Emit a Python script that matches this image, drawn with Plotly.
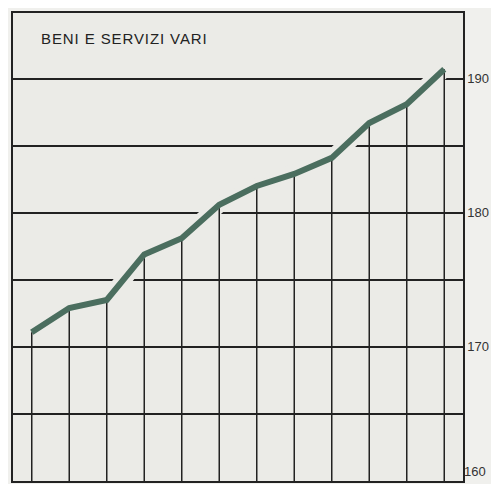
import plotly.graph_objects as go

# data
months = list(range(12))
values = [171.1, 172.9, 173.5, 176.9, 178.1, 180.6, 182.0, 182.9, 184.1, 186.7, 188.1, 190.7]
grid_vals = [165, 170, 175, 180, 185, 190]
grid_text = ["", "170", "", "180", "", "190"]
base_vals = [160]
base_text = ["160"]
title = "BENI E SERVIZI VARI"
y_base = 160
y_range = [160, 194.9]

plot_bg = "#ebebe7"
line_col = "#4b6e5f"
tick_font = dict(family="Liberation Sans, Arial", size=13, color="#333333")

# drop lines from each point to the baseline
drop_x, drop_y = [], []
for m, v in zip(months, values):
    drop_x += [m, m, None]
    drop_y += [v, y_base, None]

fig = go.Figure()
# halo under the line (cuts gridlines)
fig.add_trace(go.Scatter(x=months, y=values, mode="lines", yaxis="y",
                         line=dict(color=plot_bg, width=16), hoverinfo="skip"))
fig.add_trace(go.Scatter(x=drop_x, y=drop_y, mode="lines", yaxis="y2",
                         line=dict(color="#222222", width=1.5), hoverinfo="skip"))
fig.add_trace(go.Scatter(x=months, y=values, mode="lines", yaxis="y2",
                         line=dict(color=line_col, width=6), hoverinfo="skip"))

fig.add_annotation(xref="paper", yref="paper", x=0.058, y=0.945,
                   xanchor="left", yanchor="middle", showarrow=False,
                   text='<span style="letter-spacing:0.9px">' + title + '</span>',
                   font=dict(family="Liberation Sans, Arial", size=15, color="#222222"))

# page body has an 8px margin, so the figure is sized to the visible area
fig.update_layout(
    width=491, height=476,
    margin=dict(l=3, r=36, t=3, b=3),
    paper_bgcolor="#f0f0ed", plot_bgcolor=plot_bg,
    showlegend=False,
    font=tick_font,
    yaxis=dict(range=y_range, side="right",
               showgrid=True, gridcolor="#222222", gridwidth=1.5,
               tickmode="array", tickvals=grid_vals, ticktext=grid_text,
               ticks="", ticklabelstandoff=0, tickfont=tick_font,
               zeroline=False, showline=True, mirror=True,
               linecolor="#222222", linewidth=1.5),
    yaxis2=dict(range=y_range, side="right", overlaying="y",
                showgrid=False, zeroline=False, showline=False,
                tickmode="array", tickvals=base_vals, ticktext=base_text,
                ticks="", ticklabelstandoff=0, tickfont=tick_font,
                ticklabelposition="outside top"),
)
fig.update_xaxes(range=[-0.5, 11.5], showgrid=False, showticklabels=False,
                 zeroline=False, showline=True, mirror=True,
                 linecolor="#222222", linewidth=1.5)

fig.write_html("out.html")
